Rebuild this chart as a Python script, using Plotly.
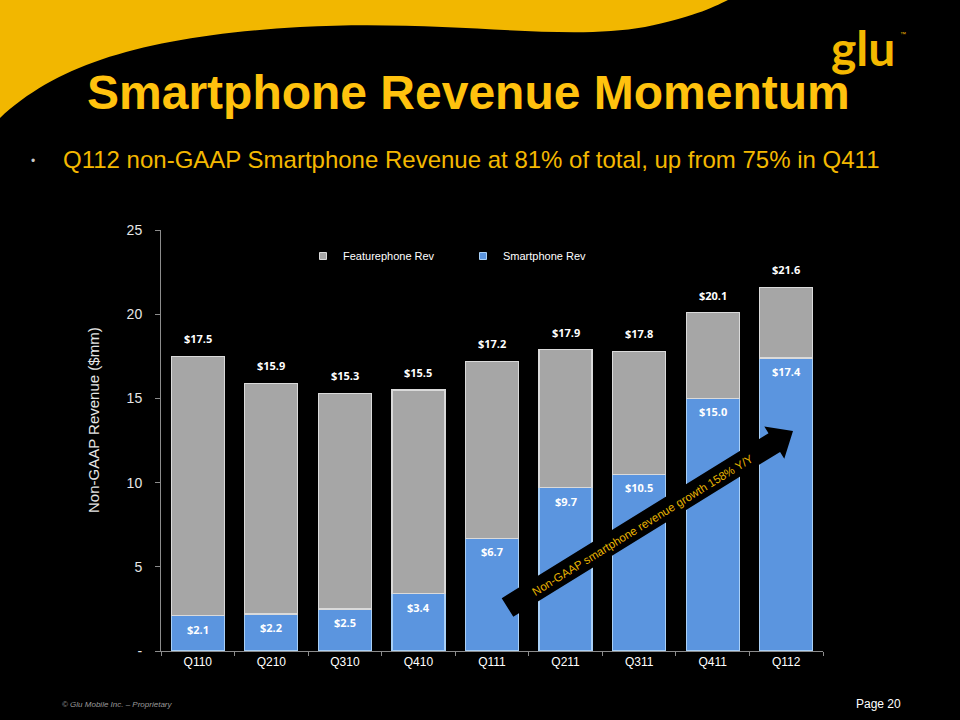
import math
import plotly.graph_objects as go

# ---------------- data ----------------
quarters = ["Q110", "Q210", "Q310", "Q410", "Q111", "Q211", "Q311", "Q411", "Q112"]
smartphone_rev = [2.1, 2.2, 2.5, 3.4, 6.7, 9.7, 10.5, 15.0, 17.4]
featurephone_rev = [15.4, 13.7, 12.8, 12.1, 10.5, 8.2, 7.3, 5.1, 4.2]
total_rev = [17.5, 15.9, 15.3, 15.5, 17.2, 17.9, 17.8, 20.1, 21.6]
smart_labels = ["$2.1", "$2.2", "$2.5", "$3.4", "$6.7", "$9.7", "$10.5", "$15.0", "$17.4"]
total_labels = ["$17.5", "$15.9", "$15.3", "$15.5", "$17.2", "$17.9", "$17.8", "$20.1", "$21.6"]
y_tickvals = [0, 5, 10, 15, 20, 25]
y_ticktext = ["-", "5", "10", "15", "20", "25"]

# ---------------- layout geometry (pixels) ----------------
W, H = 960, 720
L, R, T, B = 161, 823, 230, 651


def px(x):
    return (x - L) / (R - L)


def py(y):
    return (B - y) / (B - T)


GOLD = "#F4B800"
TITLE_GOLD = "#FFC20E"
BLUE = "#5B95DF"
GREY = "#A6A6A6"

fig = go.Figure()
fig.add_trace(go.Bar(
    x=quarters, y=smartphone_rev, name="Smartphone Rev", showlegend=False,
    marker=dict(color=BLUE, line=dict(color="#A9D0F7", width=1.2)),
    width=0.72, hoverinfo="skip",
))
fig.add_trace(go.Bar(
    x=quarters, y=featurephone_rev, name="Featurephone Rev", showlegend=False,
    marker=dict(color=GREY, line=dict(color="#DADADA", width=1.2)),
    width=0.72, hoverinfo="skip",
))
# legend entries (small square swatches like the original)
fig.add_trace(go.Scatter(x=[None], y=[None], mode="markers", name="Smartphone Rev",
                         marker=dict(symbol="square", size=7, color=BLUE,
                                     line=dict(color="#A9D0F7", width=1))))
fig.add_trace(go.Scatter(x=[None], y=[None], mode="markers", name="Featurephone Rev",
                         marker=dict(symbol="square", size=7, color=GREY,
                                     line=dict(color="#DADADA", width=1))))

annotations = []
label_font = dict(family="Open Sans, Liberation Sans, Arial", size=11, color="white")
for q, v, t in zip(quarters, smartphone_rev, smart_labels):
    annotations.append(dict(x=q, y=v, xref="x", yref="y", text="<b>%s</b>" % t,
                            showarrow=False, yanchor="top", yshift=-4, font=label_font))
for q, v, t in zip(quarters, total_rev, total_labels):
    annotations.append(dict(x=q, y=v, xref="x", yref="y", text="<b>%s</b>" % t,
                            showarrow=False, yanchor="bottom", yshift=8, font=label_font))

# Title, bullet, footer, logo, axis title
annotations += [
    dict(x=px(468), y=py(92), xref="paper", yref="paper", showarrow=False,
         text="<b>Smartphone Revenue Momentum</b>", xanchor="center", yanchor="middle",
         font=dict(family="Liberation Sans, Arial", size=48, color=TITLE_GOLD)),
    dict(x=px(29), y=py(161), xref="paper", yref="paper", showarrow=False,
         text="•", xanchor="left", yanchor="middle",
         font=dict(family="Liberation Sans, Arial", size=12, color="#C8C8C8")),
    dict(x=px(61), y=py(160), xref="paper", yref="paper", showarrow=False,
         text="Q112 non-GAAP Smartphone Revenue at 81% of total, up from 75% in Q411",
         xanchor="left", yanchor="middle",
         font=dict(family="Liberation Sans, Arial", size=24, color=GOLD)),
    dict(x=px(93), y=py(420), xref="paper", yref="paper", showarrow=False,
         text="Non-GAAP Revenue ($mm)", textangle=-90, xanchor="center", yanchor="middle",
         font=dict(family="Liberation Sans, Arial", size=15, color="#E6E6E6")),
    dict(x=px(60), y=py(704), xref="paper", yref="paper", showarrow=False,
         text="<i>© Glu Mobile Inc. – Proprietary</i>", xanchor="left", yanchor="middle",
         font=dict(family="Liberation Sans, Arial", size=8, color="#9A9A9A")),
    dict(x=px(903), y=py(704), xref="paper", yref="paper", showarrow=False,
         text="Page 20", xanchor="right", yanchor="middle",
         font=dict(family="Liberation Sans, Arial", size=12, color="white")),
    dict(x=px(863), y=py(48), xref="paper", yref="paper", showarrow=False,
         text="<b>glu</b>", xanchor="center", yanchor="middle",
         font=dict(family="Lato, Open Sans, Arial", size=48, color=GOLD)),
    dict(x=px(898), y=py(34), xref="paper", yref="paper", showarrow=False,
         text="™", xanchor="left", yanchor="middle",
         font=dict(family="Liberation Sans, Arial", size=6, color=GOLD)),
]

# Arrow text
tail = (507.5, 607.5)
tip = (793.0, 431.0)
dx, dy = tip[0] - tail[0], tip[1] - tail[1]
ln = math.hypot(dx, dy)
ux, uy = dx / ln, dy / ln
nx, ny = -uy, ux
ang = math.degrees(math.atan2(dy, dx))
bw, hw, hl = 11, 19, 22
base = (tip[0] - ux * hl, tip[1] - uy * hl)
pts = [
    (tail[0] + nx * bw, tail[1] + ny * bw),
    (base[0] + nx * bw, base[1] + ny * bw),
    (base[0] + nx * hw, base[1] + ny * hw),
    tip,
    (base[0] - nx * hw, base[1] - ny * hw),
    (base[0] - nx * bw, base[1] - ny * bw),
    (tail[0] - nx * bw, tail[1] - ny * bw),
]
arrow_path = "M " + " L ".join("%.5f,%.5f" % (px(a), py(b)) for a, b in pts) + " Z"
mid = ((tail[0] + base[0]) / 2 + 2, (tail[1] + base[1]) / 2)
annotations.append(dict(x=px(mid[0]), y=py(mid[1]), xref="paper", yref="paper", showarrow=False,
                        text="Non-GAAP smartphone revenue growth 158% Y/Y", textangle=ang,
                        xanchor="center", yanchor="middle",
                        font=dict(family="Liberation Sans, Arial", size=11.5, color="#E8B400")))

# Swoosh
swoosh_path = ("M %f,%f L %f,%f C %f,%f %f,%f %f,%f C %f,%f %f,%f %f,%f C %f,%f %f,%f %f,%f L %f,%f Z" % (
    px(0), py(0), px(0), py(118),
    px(60), py(62), px(150), py(36), px(300), py(27),
    px(450), py(19), px(560), py(42), px(645), py(27),
    px(690), py(18), px(712), py(8), px(728), py(0),
    px(0), py(0)))

shapes = [
    dict(type="path", path=swoosh_path, xref="paper", yref="paper",
         fillcolor="#F2B700", line=dict(width=0), layer="below"),
    dict(type="path", path=arrow_path, xref="paper", yref="paper",
         fillcolor="black", line=dict(width=0), layer="above"),
]

fig.update_layout(
    width=W, height=H,
    margin=dict(l=L, r=W - R, t=T, b=H - B, pad=0),
    paper_bgcolor="black", plot_bgcolor="black",
    barmode="stack", bargap=0.28,
    showlegend=True,
    legend=dict(orientation="h", x=px(303), y=py(256), xanchor="left", yanchor="middle",
                traceorder="reversed", itemwidth=30, entrywidth=115, entrywidthmode="pixels",
                font=dict(family="Liberation Sans, Arial", size=11, color="white"),
                bgcolor="rgba(0,0,0,0)"),
    xaxis=dict(type="category", showgrid=False, showline=True, linecolor="#8C8C8C", linewidth=1,
               ticks="outside", tickson="boundaries", ticklen=4, tickcolor="#8C8C8C",
               tickfont=dict(family="Liberation Sans, Arial", size=12, color="white"),
               range=[-0.5, 8.5], zeroline=False),
    yaxis=dict(range=[0, 25], tickvals=y_tickvals, ticktext=y_ticktext, showgrid=False,
               showline=True, linecolor="#8C8C8C", linewidth=1, ticks="outside", ticklen=5,
               tickcolor="#8C8C8C", ticklabelstandoff=10,
               tickfont=dict(family="Liberation Sans, Arial", size=14, color="#E6E6E6"),
               zeroline=False),
    annotations=annotations,
    shapes=shapes,
)

fig.write_html("out.html", config={"displayModeBar": False},
               post_script="document.body.style.margin='0';")
